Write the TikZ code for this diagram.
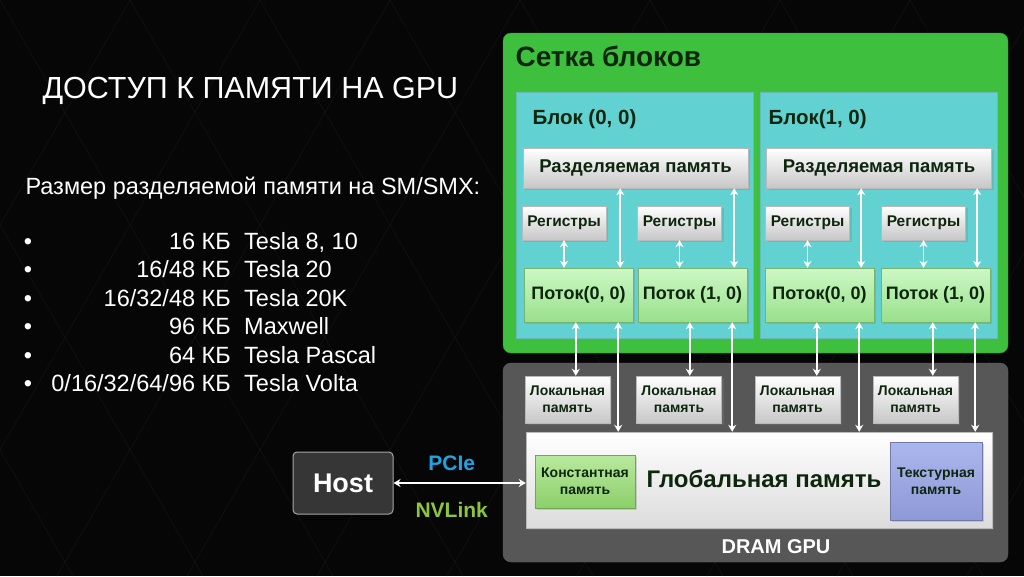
\documentclass[tikz,border=0pt]{standalone}
\usepackage{fontspec}
\setmainfont{Liberation Sans}
\usetikzlibrary{arrows.meta, shadows}

\definecolor{slidebg}{HTML}{060606}
\definecolor{facetline}{HTML}{161616}
\definecolor{gridgreen}{HTML}{3EBF3E}
\definecolor{blockcyan}{HTML}{62D1D1}
\definecolor{ink}{HTML}{0D260D}
\definecolor{dramgray}{HTML}{575757}
\definecolor{hostgray}{HTML}{363636}
\definecolor{threadtop}{HTML}{CDF8C4}
\definecolor{threadbot}{HTML}{98E08C}
\definecolor{consttop}{HTML}{B8EA9E}
\definecolor{constbot}{HTML}{8CCF6A}
\definecolor{textop}{HTML}{ACB6EE}
\definecolor{texbot}{HTML}{8E99D6}
\definecolor{pcieblue}{HTML}{1FA3E3}
\definecolor{nvgreen}{HTML}{8CC63E}

\begin{document}
\begin{tikzpicture}[x=1pt, y=-1pt,
      sizeitem/.style = {text=white, font=\fontsize{23.5}{28}\selectfont,
                         inner sep=0pt, text height=17pt, text depth=5pt},
      shadowed/.style = {drop shadow={shadow xshift=2pt, shadow yshift=-2pt,
                         opacity=0.3}},
      graybox/.style  = {shadowed, draw=gray!55, top color=white,
                         bottom color=black!22, text=ink, inner sep=0pt,
                         align=center},
      thrbox/.style   = {shadowed, draw=threadbot!80!black, top color=threadtop,
                         bottom color=threadbot, text=ink, inner sep=0pt,
                         font=\bfseries\fontsize{18}{22}\selectfont},
      memfont/.style  = {font=\bfseries\fontsize{14}{17}\selectfont},
      dbl/.style      = {{Stealth[length=7pt,width=8pt]}-{Stealth[length=7pt,width=8pt]},
                         white, line width=1.8pt}
    ]

    % slide background
    \fill[slidebg] (0,0) rectangle (1024,576);
    \begin{scope}
      \clip (0,0) rectangle (1024,576);
      \foreach \i in {-3,...,11}
        \draw[facetline] (\i*130,0) -- ++(333,576) (\i*130,0) -- ++(-333,576);
    \end{scope}

    % left column
    \node[anchor=west, text=white, font=\fontsize{30.5}{36}\selectfont]
      (title) at (39,91) {ДОСТУП К ПАМЯТИ НА GPU};
    \node[anchor=west, text=white, font=\fontsize{23.5}{28}\selectfont]
      (sizes) at (22,188) {Размер разделяемой памяти на SM/SMX:};
    \foreach \kb/\gpu [count=\k from 0] in {{16 КБ}/{Tesla 8, 10}, {16/48 КБ}/{Tesla 20},
        {16/32/48 КБ}/{Tesla 20K}, {96 КБ}/{Maxwell}, {64 КБ}/{Tesla Pascal},
        {0/16/32/64/96 КБ}/{Tesla Volta}} {
      \node[sizeitem] (dot\k) at (28,243+28.5*\k) {•};
      \node[sizeitem, anchor=east] (kb\k) at (231,243+28.5*\k) {\kb};
      \node[sizeitem, anchor=west] (gpu\k) at (244,243+28.5*\k) {\gpu};
    }

    % grid of blocks
    \node[draw=gridgreen!80!black, fill=gridgreen, rounded corners=8pt,
          minimum width=505pt, minimum height=320pt] (grid) at (755.5,193) {};
    \node[anchor=base west, text=ink, font=\bfseries\fontsize{28}{32}\selectfont]
      (gridlbl) at (512,66) {Сетка блоков};

    \node[draw=blockcyan!70!gray, fill=blockcyan, minimum width=237pt,
          minimum height=246pt] (blk0) at (634.5,215) {};
    \node[draw=blockcyan!70!gray, fill=blockcyan, minimum width=237pt,
          minimum height=246pt] (blk1) at (878.5,215) {};
    \node[anchor=base west, text=ink, font=\bfseries\fontsize{20.5}{24}\selectfont]
      (blk0lbl) at (529,124) {Блок (0, 0)};
    \node[anchor=base west, text=ink, font=\bfseries\fontsize{20.5}{24}\selectfont]
      (blk1lbl) at (765,124) {Блок(1, 0)};

    \node[graybox, font=\bfseries\fontsize{18.5}{22}\selectfont, minimum width=225pt,
          minimum height=40pt] (shm0) at (635.5,168) {Разделяемая память};
    \node[graybox, font=\bfseries\fontsize{18.5}{22}\selectfont, minimum width=225pt,
          minimum height=40pt] (shm1) at (879,168) {Разделяемая память};

    \node[graybox, font=\bfseries\fontsize{15.5}{18}\selectfont, minimum width=84pt,
          minimum height=34pt] (reg00) at (564,223) {Регистры};
    \node[graybox, font=\bfseries\fontsize{15.5}{18}\selectfont, minimum width=84pt,
          minimum height=34pt] (reg01) at (679.5,223) {Регистры};
    \node[graybox, font=\bfseries\fontsize{15.5}{18}\selectfont, minimum width=84pt,
          minimum height=34pt] (reg10) at (807.5,223) {Регистры};
    \node[graybox, font=\bfseries\fontsize{15.5}{18}\selectfont, minimum width=84pt,
          minimum height=34pt] (reg11) at (923.5,223) {Регистры};

    \node[thrbox, minimum width=109pt, minimum height=54pt] (thr00) at (578.5,295) {Поток(0, 0)};
    \node[thrbox, minimum width=109pt, minimum height=54pt] (thr01) at (692.5,295) {Поток (1, 0)};
    \node[thrbox, minimum width=109pt, minimum height=54pt] (thr10) at (819.5,295) {Поток(0, 0)};
    \node[thrbox, minimum width=109pt, minimum height=54pt] (thr11) at (935.5,295) {Поток (1, 0)};

    % device memory
    \node[draw=gray!75!black, fill=dramgray, rounded corners=8pt,
          minimum width=505pt, minimum height=199pt] (dram) at (755.5,462.5) {};
    \node[anchor=base, text=white, font=\bfseries\fontsize{20}{24}\selectfont]
      (dramlbl) at (776,553) {DRAM GPU};

    \node[graybox, memfont, minimum width=85pt, minimum height=47pt] (loc0) at (567.5,399.5) {Локальная\\память};
    \node[graybox, memfont, minimum width=85pt, minimum height=47pt] (loc1) at (679,399.5) {Локальная\\память};
    \node[graybox, memfont, minimum width=85pt, minimum height=47pt] (loc2) at (797.5,399.5) {Локальная\\память};
    \node[graybox, memfont, minimum width=85pt, minimum height=47pt] (loc3) at (915.5,399.5) {Локальная\\память};

    \node[graybox, bottom color=black!14, minimum width=466pt, minimum height=96pt] (glob) at (759,480) {};
    \node[text=ink, font=\bfseries\fontsize{24}{28}\selectfont] (globlbl) at (764,479) {Глобальная память};
    \node[shadowed, draw=constbot!80!black, top color=consttop, bottom color=constbot,
          text=ink, memfont, align=center, inner sep=0pt, minimum width=100pt,
          minimum height=53pt] (const) at (585,481.5) {Константная\\память};
    \node[shadowed, draw=texbot!80!black, top color=textop, bottom color=texbot,
          text=ink, memfont, align=center, inner sep=0pt, minimum width=92pt,
          minimum height=78pt] (tex) at (936,481) {Текстурная\\память};

    % host
    \node[draw=gray!70, fill=hostgray, rounded corners=4pt, line width=1pt, text=white,
          font=\bfseries\fontsize{27}{32}\selectfont, minimum width=100pt,
          minimum height=62pt] (host) at (343,483) {Host};

    % connectors
    \draw[dbl] (reg00.south) -- (reg00.south |- thr00.north);
    \draw[dbl] (reg01.south) -- (reg01.south |- thr01.north);
    \draw[dbl] (reg10.south) -- (reg10.south |- thr10.north);
    \draw[dbl] (reg11.south) -- (reg11.south |- thr11.north);

    \draw[dbl] ([xshift=-13pt]thr00.north east) -- ([xshift=-13pt]thr00.north east |- shm0.south);
    \draw[dbl] ([xshift=-13pt]thr01.north east) -- ([xshift=-13pt]thr01.north east |- shm0.south);
    \draw[dbl] ([xshift=-13pt]thr10.north east) -- ([xshift=-13pt]thr10.north east |- shm1.south);
    \draw[dbl] ([xshift=-13pt]thr11.north east) -- ([xshift=-13pt]thr11.north east |- shm1.south);

    \draw[dbl] ([xshift=52pt]thr00.south west) -- ([xshift=52pt]thr00.south west |- loc0.north);
    \draw[dbl] ([xshift=52pt]thr01.south west) -- ([xshift=52pt]thr01.south west |- loc1.north);
    \draw[dbl] ([xshift=52pt]thr10.south west) -- ([xshift=52pt]thr10.south west |- loc2.north);
    \draw[dbl] ([xshift=52pt]thr11.south west) -- ([xshift=52pt]thr11.south west |- loc3.north);

    \draw[dbl] ([xshift=-15pt]thr00.south east) -- ([xshift=-15pt]thr00.south east |- glob.north);
    \draw[dbl] ([xshift=-15pt]thr01.south east) -- ([xshift=-15pt]thr01.south east |- glob.north);
    \draw[dbl] ([xshift=-15pt]thr10.south east) -- ([xshift=-15pt]thr10.south east |- glob.north);
    \draw[dbl] ([xshift=-15pt]thr11.south east) -- ([xshift=-15pt]thr11.south east |- glob.north);

    \draw[dbl] (host.east) -- (host.east -| glob.west)
      node[pos=0.44, above=8pt, text=pcieblue, font=\bfseries\fontsize{21}{25}\selectfont] {PCIe}
      node[pos=0.44, below=15pt, text=nvgreen, font=\bfseries\fontsize{21}{25}\selectfont] {NVLink};
  \end{tikzpicture}
\end{document}
